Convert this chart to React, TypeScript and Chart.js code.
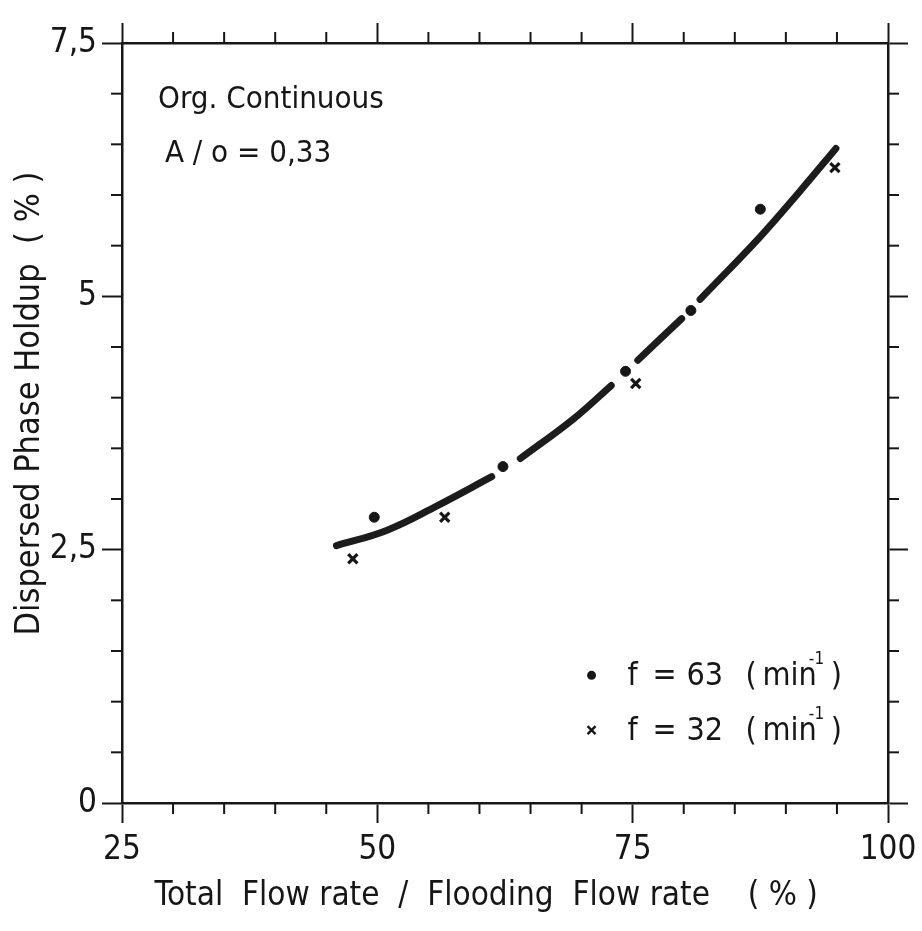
import React, { useEffect, useRef } from 'react';
import { Chart, registerables } from 'chart.js';

Chart.register(...registerables);

const FONT = "'Liberation Sans Narrow', 'DejaVu Sans Condensed', 'Arial Narrow', sans-serif";

// Axis ticks / labels
const xLabelTicks = [25, 50, 75, 100];
const yLabelTicks = [0, 2.5, 5, 7.5];
const yLabelText = ['0', '2,5', '5', '7,5'];

// f = 63 min^-1 (dots)
const dotX = [49.7, 62.3, 74.3, 80.7, 87.5];
const dotY = [2.82, 3.32, 4.26, 4.86, 5.86];

// f = 32 min^-1 (crosses)
const crossX = [47.6, 56.6, 75.3, 94.8];
const crossY = [2.41, 2.82, 4.14, 6.27];

// fitted curve (null = gap where the line breaks around a marker)
const curveX = [46.0, 50.9, 55.8, 61.2, 62.6, 64.0, 69.2, 72.9, 74.2, 75.5, 79.8, 80.7, 81.6, 87.5, 91.4, 94.9];
const curveY = [2.54, 2.69, 2.93, 3.22, null, 3.4, 3.79, 4.12, null, 4.37, 4.78, null, 4.97, 5.59, 6.04, 6.46];

const legendValues = ['63', '32'];
const noteLines = ['Org. Continuous', 'A / o = 0,33'];

const INK = '#161616';

const minorTickPlugin = {
  id: 'minorTicks',
  afterDraw(chart: any) {
    const ctx = chart.ctx;
    ctx.save();
    ctx.strokeStyle = INK;
    ctx.lineWidth = 2;
    const len = 11;
    const sx = chart.scales.x, sx2 = chart.scales.x2, sy = chart.scales.y, sy2 = chart.scales.y2;
    sx.ticks.forEach((t: any) => {
      if (xLabelTicks.includes(t.value)) return;
      const p = sx.getPixelForValue(t.value);
      ctx.beginPath(); ctx.moveTo(p, sx.top); ctx.lineTo(p, sx.top + len); ctx.stroke();
    });
    sx2.ticks.forEach((t: any) => {
      if (xLabelTicks.includes(t.value)) return;
      const p = sx2.getPixelForValue(t.value);
      ctx.beginPath(); ctx.moveTo(p, sx2.bottom); ctx.lineTo(p, sx2.bottom - len); ctx.stroke();
    });
    sy.ticks.forEach((t: any) => {
      if (yLabelTicks.includes(t.value)) return;
      const p = sy.getPixelForValue(t.value);
      ctx.beginPath(); ctx.moveTo(sy.right, p); ctx.lineTo(sy.right - len, p); ctx.stroke();
    });
    sy2.ticks.forEach((t: any) => {
      if (yLabelTicks.includes(t.value)) return;
      const p = sy2.getPixelForValue(t.value);
      ctx.beginPath(); ctx.moveTo(sy2.left, p); ctx.lineTo(sy2.left + len, p); ctx.stroke();
    });
    ctx.restore();
  },
};

const textPlugin = {
  id: 'texts',
  afterDraw(chart: any) {
    const ctx = chart.ctx;
    const a = chart.chartArea;
    const W = a.right - a.left;
    const H = a.bottom - a.top;
    ctx.save();
    ctx.fillStyle = INK;
    ctx.strokeStyle = INK;
    ctx.textBaseline = 'alphabetic';
    ctx.textAlign = 'left';

    // annotation
    ctx.font = `31px ${FONT}`;
    ctx.fillText(noteLines[0], a.left + 0.047 * W, a.top + 0.085 * H);
    ctx.fillText(noteLines[1], a.left + 0.056 * W, a.top + 0.157 * H);

    // legend
    const rows = [0.832, 0.904];
    rows.forEach((r, i) => {
      const my = a.top + r * H;
      const mx = a.left + 0.613 * W;
      if (i === 0) {
        ctx.beginPath(); ctx.arc(mx, my, 4.5, 0, Math.PI * 2); ctx.fill();
      } else {
        ctx.lineWidth = 2.4;
        ctx.beginPath();
        ctx.moveTo(mx - 4, my - 4); ctx.lineTo(mx + 4, my + 4);
        ctx.moveTo(mx + 4, my - 4); ctx.lineTo(mx - 4, my + 4);
        ctx.stroke();
      }
      const base = my + 10;
      const x = a.left + 0.66 * W;
      ctx.font = `32px ${FONT}`;
      ctx.fillText('f', x, base);
      ctx.fillText('=', x + 25, base);
      ctx.fillText(legendValues[i], x + 59, base);
      ctx.fillText('(', x + 118, base);
      ctx.fillText('min', x + 135, base);
      const mw = ctx.measureText('min').width;
      ctx.font = `17px ${FONT}`;
      ctx.fillText('-1', x + 135 + mw - 8, base - 21);
      ctx.font = `32px ${FONT}`;
      ctx.fillText(')', x + 135 + mw + 14, base);
    });
    ctx.restore();
  },
};

export default function App() {
  const ref = useRef<HTMLCanvasElement | null>(null);

  useEffect(() => {
    if (!ref.current) return;
    const majorColorX = (c: any) => (xLabelTicks.includes(c.tick?.value) ? INK : 'rgba(0,0,0,0)');
    const majorColorY = (c: any) => (yLabelTicks.includes(c.tick?.value) ? INK : 'rgba(0,0,0,0)');
    const gridX = { drawOnChartArea: false, drawTicks: true, tickLength: 20, tickWidth: 2, tickColor: majorColorX };
    const gridY = { drawOnChartArea: false, drawTicks: true, tickLength: 20, tickWidth: 2, tickColor: majorColorY };
    const border = { display: true, color: INK, width: 2.5 };

    const chart = new Chart(ref.current, {
      type: 'scatter',
      data: {
        datasets: [
          {
            label: 'curve',
            data: curveX.map((x, i) => ({ x, y: curveY[i] as any })),
            showLine: true,
            spanGaps: false,
            borderColor: '#1c1c1c',
            borderWidth: 7,
            borderCapStyle: 'round',
            pointRadius: 0,
            tension: 0.4,
          } as any,
          {
            label: 'f = 63 (min-1)',
            data: dotX.map((x, i) => ({ x, y: dotY[i] })),
            pointStyle: 'circle',
            pointRadius: 5,
            backgroundColor: INK,
            borderColor: INK,
            borderWidth: 1,
            showLine: false,
          },
          {
            label: 'f = 32 (min-1)',
            data: crossX.map((x, i) => ({ x, y: crossY[i] })),
            pointStyle: 'crossRot',
            pointRadius: 6.5,
            borderColor: INK,
            borderWidth: 3.2,
            showLine: false,
          },
        ],
      },
      options: {
        animation: false,
        responsive: false,
        maintainAspectRatio: false,
        layout: { padding: 0 },
        plugins: { legend: { display: false }, tooltip: { enabled: false } },
        scales: {
          x: {
            type: 'linear',
            position: 'bottom',
            min: 25,
            max: 100,
            grid: gridX,
            border,
            ticks: {
              stepSize: 5,
              autoSkip: false,
              maxRotation: 0,
              padding: 8,
              color: INK,
              font: { family: FONT, size: 33 },
              callback: (v: any) => (xLabelTicks.includes(v) ? String(v) : ''),
            },
            title: {
              display: true,
              text: 'Total  Flow rate  /  Flooding  Flow rate    ( % )    ',
              color: INK,
              font: { family: FONT, size: 33 },
              padding: { top: 0, bottom: 15 },
            },
            afterFit: (s: any) => { s.height = 128; s.paddingLeft = 0; s.paddingRight = 0; },
          },
          x2: {
            type: 'linear',
            position: 'top',
            min: 25,
            max: 100,
            grid: gridX,
            border,
            ticks: { stepSize: 5, autoSkip: false, display: false },
            afterFit: (s: any) => { s.height = 43; s.paddingLeft = 0; s.paddingRight = 0; },
          },
          y: {
            type: 'linear',
            position: 'left',
            min: 0,
            max: 7.5,
            grid: gridY,
            border,
            ticks: {
              stepSize: 0.5,
              autoSkip: false,
              padding: 5,
              color: INK,
              font: { family: FONT, size: 33 },
              callback: (v: any) => {
                const i = yLabelTicks.indexOf(v);
                return i >= 0 ? yLabelText[i] : '';
              },
            },
            title: {
              display: true,
              text: '    Dispersed Phase Holdup  ( % )',
              color: INK,
              font: { family: FONT, size: 34 },
              padding: { top: 10, bottom: 0 },
            },
            afterFit: (s: any) => { s.width = 122; s.paddingTop = 0; s.paddingBottom = 0; },
          },
          y2: {
            type: 'linear',
            position: 'right',
            min: 0,
            max: 7.5,
            grid: gridY,
            border,
            ticks: { stepSize: 0.5, autoSkip: false, display: false },
            afterFit: (s: any) => { s.width = 34; s.paddingTop = 0; s.paddingBottom = 0; },
          },
        },
      } as any,
      plugins: [minorTickPlugin, textPlugin],
    });
    return () => chart.destroy();
  }, []);

  return (
    <div style={{ position: 'absolute', left: 0, top: 0, width: 922, height: 931, background: '#fff' }}>
      <canvas ref={ref} width={922} height={931} style={{ display: 'block', width: 922, height: 931 }} />
    </div>
  );
}
